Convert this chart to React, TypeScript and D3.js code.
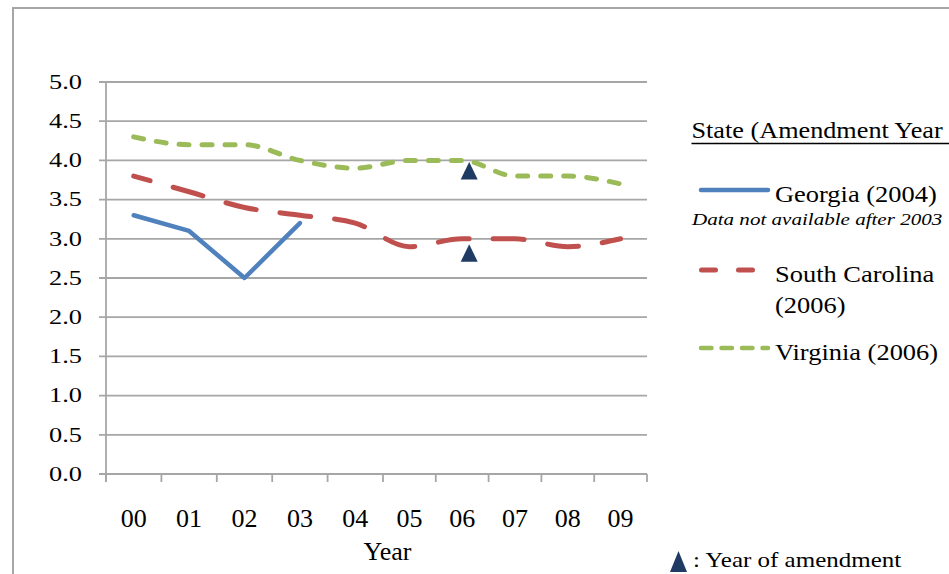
import * as d3 from 'd3';
import { useEffect, useRef } from 'react';

// values (scores by school year, 2000-2009)
const years = ['00', '01', '02', '03', '04', '05', '06', '07', '08', '09'];
const georgia = [3.3, 3.1, 2.5, 3.2]; // data not available after 2003
const southCarolina = [3.8, 3.6, 3.4, 3.3, 3.2, 2.9, 3.0, 3.0, 2.9, 3.0];
const virginia = [4.3, 4.2, 4.2, 4.0, 3.9, 4.0, 4.0, 3.8, 3.8, 3.7];
const yTicks = [0, 0.5, 1, 1.5, 2, 2.5, 3, 3.5, 4, 4.5, 5];
// triangles: year of amendment, placed just under the line
const amendmentMarks = [
    { year: '06', value: 3.98 },
    { year: '06', value: 2.93 },
];

const BLUE = '#4f81bd';
const RED = '#c0504d';
const GREEN = '#9bbb59';
const NAVY = '#1f3b63';
const GRID = '#a6a6a6';
const FONT = '"Liberation Serif", "Times New Roman", serif';

const App = () => {
    const svgRef = useRef<SVGSVGElement>(null);
    const width = 949;
    const height = 574;

    useEffect(() => {
        const svg = d3.select(svgRef.current)
            .attr('width', width)
            .attr('height', height);
        svg.selectAll('*').remove();

        const txt = (str, x, y, size, opts: any = {}) => {
            const t = svg.append('text')
                .attr('transform', `translate(${x},${y}) scale(${opts.sx || 1},1)`)
                .attr('font-family', FONT)
                .attr('font-size', size)
                .attr('fill', '#000')
                .attr('text-anchor', opts.anchor || 'start')
                .text(str);
            if (opts.italic) t.attr('font-style', 'italic');
            if (opts.dy) t.attr('dy', opts.dy);
            return t;
        };

        // outer frame (only top and left edges are visible in the crop)
        svg.append('path')
            .attr('d', `M13,${height} L13,8 L${width},8`)
            .attr('fill', 'none')
            .attr('stroke', GRID)
            .attr('stroke-width', 2);

        const left = 106, right = 647, top = 82, bottom = 474;
        // band edges are slightly uneven in the original, so piecewise
        const x = d3.scaleLinear().domain([0, 5, 10]).range([left, 383, right]);
        const y = d3.scaleLinear().domain([0, 5]).range([bottom, top]);
        const yearIdx = (yr) => years.indexOf(yr);

        // gridlines + y ticks
        yTicks.forEach(t => {
            svg.append('line')
                .attr('x1', left - 7).attr('x2', right)
                .attr('y1', y(t)).attr('y2', y(t))
                .attr('stroke', GRID).attr('stroke-width', 1.8);
            txt(d3.format('.1f')(t), 82, y(t), 20, { anchor: 'end', sx: 1.32, dy: '0.34em' });
        });
        // y axis line
        svg.append('line')
            .attr('x1', left).attr('x2', left)
            .attr('y1', top).attr('y2', bottom + 8)
            .attr('stroke', GRID).attr('stroke-width', 1.8);
        // x ticks at band edges
        d3.range(years.length + 1).forEach(i => {
            svg.append('line')
                .attr('x1', x(i)).attr('x2', x(i))
                .attr('y1', bottom).attr('y2', bottom + 8)
                .attr('stroke', GRID).attr('stroke-width', 1.8);
        });
        years.forEach((yr, i) => {
            txt(yr, x(i + 0.5), 527, 26, { anchor: 'middle' });
        });
        txt('Year', 387.5, 560, 26, { anchor: 'middle' });

        const smooth = d3.line<number>()
            .x((d, i) => x(i + 0.5))
            .y(d => y(d))
            .curve(d3.curveMonotoneX);
        const straight = d3.line<number>()
            .x((d, i) => x(i + 0.5))
            .y(d => y(d));

        svg.append('path')
            .attr('d', smooth(virginia))
            .attr('fill', 'none')
            .attr('stroke', GREEN)
            .attr('stroke-width', 5)
            .attr('stroke-linecap', 'round')
            .attr('stroke-dasharray', '10,13');
        svg.append('path')
            .attr('d', smooth(southCarolina))
            .attr('fill', 'none')
            .attr('stroke', RED)
            .attr('stroke-width', 5)
            .attr('stroke-linecap', 'round')
            .attr('stroke-dasharray', '31,24')
            .attr('stroke-dashoffset', 14);
        svg.append('path')
            .attr('d', straight(georgia))
            .attr('fill', 'none')
            .attr('stroke', BLUE)
            .attr('stroke-width', 4.5)
            .attr('stroke-linejoin', 'round')
            .attr('stroke-linecap', 'round');

        // amendment triangles
        amendmentMarks.forEach(m => {
            const cx = x(yearIdx(m.year) + 0.5) + 7;
            const ty = y(m.value);
            svg.append('path')
                .attr('d', `M${cx},${ty} L${cx + 8.5},${ty + 17.5} L${cx - 8.5},${ty + 17.5} Z`)
                .attr('fill', NAVY);
        });

        // legend (title runs off the right edge in the original)
        txt('State (Amendment Year', 691.5, 138, 23, { sx: 1.14 });
        svg.append('line')
            .attr('x1', 691.5).attr('x2', width)
            .attr('y1', 143.5).attr('y2', 143.5)
            .attr('stroke', '#000').attr('stroke-width', 1.5);

        svg.append('line')
            .attr('x1', 701).attr('x2', 768)
            .attr('y1', 190).attr('y2', 190)
            .attr('stroke', BLUE).attr('stroke-width', 4.5).attr('stroke-linecap', 'round');
        txt('Georgia (2004)', 775, 202, 23, { sx: 1.15 });
        txt('Data not available after 2003', 692, 225, 17, { sx: 1.24, italic: true });

        svg.append('line')
            .attr('x1', 701.5).attr('x2', 753)
            .attr('y1', 270).attr('y2', 270)
            .attr('stroke', RED).attr('stroke-width', 5).attr('stroke-linecap', 'round')
            .attr('stroke-dasharray', '14,23');
        txt('South Carolina', 775, 282, 23, { sx: 1.15 });
        txt('(2006)', 775, 313, 23, { sx: 1.15 });

        svg.append('line')
            .attr('x1', 701).attr('x2', 768)
            .attr('y1', 348).attr('y2', 348)
            .attr('stroke', GREEN).attr('stroke-width', 4.5).attr('stroke-linecap', 'round')
            .attr('stroke-dasharray', '10.5,10');
        txt('Virginia (2006)', 775, 360, 23, { sx: 1.15 });

        // bottom note
        svg.append('path')
            .attr('d', 'M678.5,551 L687,572 L670,572 Z')
            .attr('fill', NAVY);
        txt(': Year of amendment', 693, 567, 21, { sx: 1.19 });
    });

    return (
        <div style={{ position: 'absolute', left: 0, top: 0, background: '#fff' }}>
            <svg ref={svgRef} style={{ display: 'block' }} />
        </div>
    );
};

export default App;
